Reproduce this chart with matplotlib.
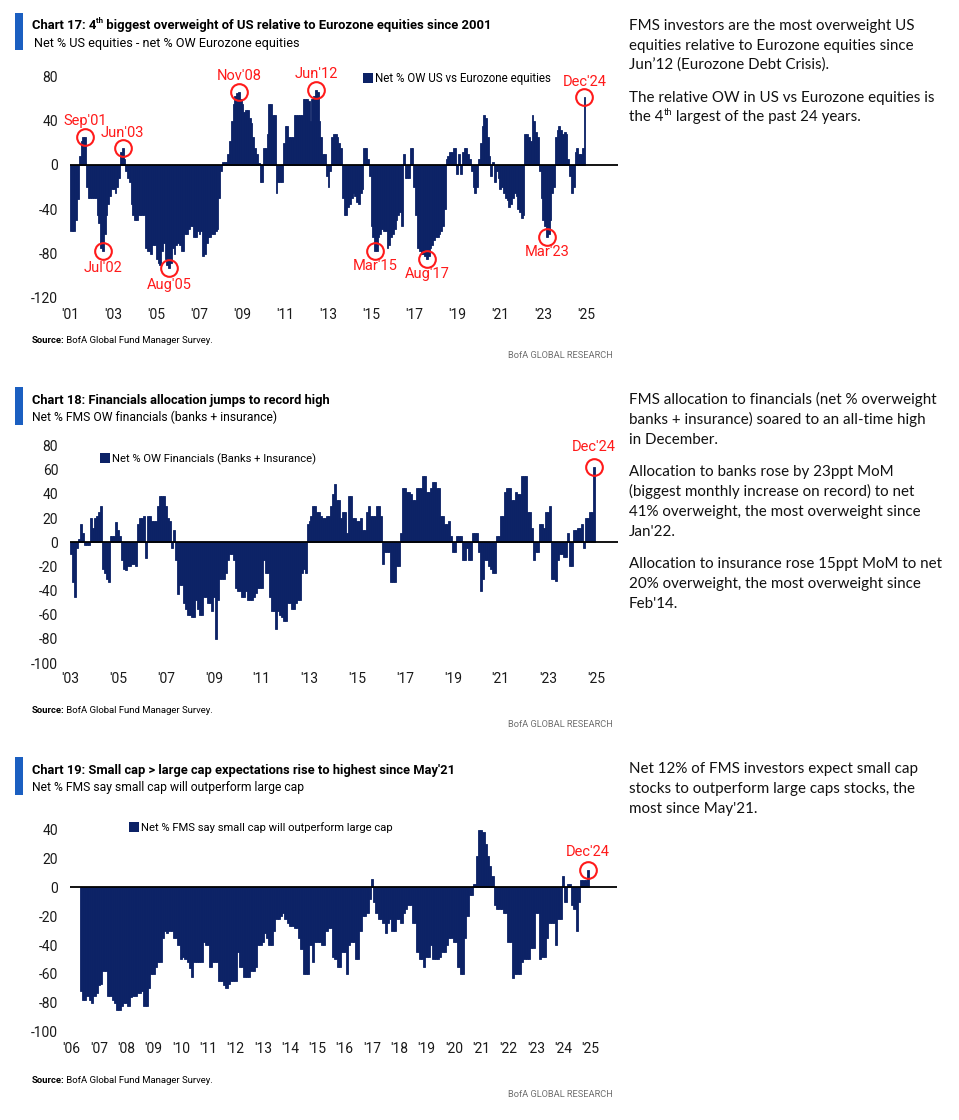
import numpy as np
import matplotlib
matplotlib.use("Agg")
import matplotlib.pyplot as plt
from matplotlib.patches import Rectangle

W, H = 959, 1120
NARROW = ['Liberation Sans Narrow', 'Roboto', 'DejaVu Sans']
BODY = ['Lato', 'DejaVu Sans']
plt.rcParams['font.family'] = NARROW

NAVY = '#0c2266'
RED = '#ff1a1a'
BLUE = '#1b5fc1'
GREY = '#6f6f6f'

# ---------------- data ----------------
# Chart 17: net % OW US vs Eurozone equities, monthly Jan-2001 .. Dec-2024
us_vs_ez_start = (2001, 1)
us_vs_ez = [
    -60, -60, -60, -50, -31, 8, 22, 25, 25, -20, -30, -30,      # 2001
    -30, -30, -30, -45, -52, -75, -78, -62, -45, -35, -28, -22,  # 2002
    -22, -25, -20, -12, 12, 15, 5, -5, -12, -15, -35, -45,       # 2003
    -50, -50, -45, -45, -45, -45, -75, -78, -78, -80, -72, -72,  # 2004
    -85, -88, -90, -78, -70, -85, -90, -93, -88, -75, -80, -72,  # 2005
    -70, -72, -78, -78, -62, -62, -58, -55, -55, -65, -65, -60,  # 2006
    -62, -60, -82, -80, -70, -65, -65, -62, -62, -60, -58, -30,  # 2007
    -5, 3, 3, 3, 10, 22, 40, 55, 62, 65, 66, 60,                 # 2008
    55, 48, 50, 50, 42, 38, 25, 15, 10, 2, -15, -15,             # 2009
    15, 15, 28, 55, 55, 45, 45, -25, -15, -15, -15, 20,          # 2010
    35, 35, 25, 25, 25, 45, 45, 45, 45, 45, 60, 60,              # 2011
    60, 58, 40, 60, 62, 68, 66, 40, 25, 10, 10, -10,             # 2012
    -20, -5, 25, 28, 28, 25, 20, 15, -30, -45, -45, -38,         # 2013
    -35, -30, -25, -28, -33, -35, -25, -22, 15, 15, 5, -10,      # 2014
    -55, -65, -78, -78, -65, -62, -58, -60, -60, -75, -72, -65,  # 2015
    -62, -58, -50, -45, -42, -55, 10, -12, -12, -12, 15, 15,     # 2016
    -20, -45, -75, -78, -80, -80, -82, -85, -82, -75, -72, -68,  # 2017
    -65, -65, -62, -60, -55, -40, 5, 8, 12, 12, 15, 15,          # 2018
    -8, 10, -8, 12, 15, 15, 10, 5, -5, -20, -25, -20,            # 2019
    5, 20, 35, 45, 42, 25, 8, -10, 3, -15, -5, -12,              # 2020
    -22, -20, -25, -30, -32, -38, -35, -30, -25, -28, -40, -42,  # 2021
    -48, -45, 28, 28, 25, 22, 45, 40, 30, 25, -5, -30,           # 2022
    -50, -55, -65, -62, -50, -25, -20, 25, 32, 35, 32, 28,       # 2023
    30, 28, 5, -10, -25, -20, 12, 15, 10, 10, 15, 61,            # 2024
]
us_vs_ez_marks = ["Sep'01", "Jul'02", "Jun'03", "Aug'05", "Nov'08", "Jun'12",
                  "Mar'15", "Aug'17", "Mar'23", "Dec'24"]

# Chart 18: net % OW financials (banks + insurance), monthly Jan-2003 .. Dec-2024
fin_start = (2003, 1)
fin = [
    -10, -33, -45, -5, 3, 15, 8, -2, -2, -2, 20, 12,             # 2003
    20, 22, 25, 30, -22, -25, -30, -33, 5, 5, 5, 17,             # 2004
    10, 5, -15, -22, -23, -20, -20, -18, -18, -20, 15, 20,       # 2005
    20, 22, -13, 22, 22, 18, 18, 18, 30, 38, 38, 38,             # 2006
    30, 20, 18, -5, 10, -15, -43, -35, -35, -50, -55, -60,       # 2007
    -60, -62, -62, -48, -55, -60, -60, -45, -45, -50, -50, -57,  # 2008
    -45, -80, -48, -30, -30, -30, -25, -15, -10, -10, -15, -38,  # 2009
    -40, -40, -45, -45, -40, -48, -48, -48, -45, -42, -38, -38,  # 2010
    -38, -15, -25, -25, -45, -57, -57, -72, -57, -60, -62, -65,  # 2011
    -65, -50, -50, -55, -55, -50, -48, -48, -25, -22, -25, 15,   # 2012
    18, 22, 30, 30, 25, 25, 22, 20, 20, 22, 22, 30,              # 2013
    40, 48, 35, 35, 20, 25, 25, 8, 38, 38, 20, 20,               # 2014
    18, 18, 20, 10, 10, 25, 30, 22, 22, 22, 30, 30,              # 2015
    22, -18, -8, -8, -8, -33, -33, -33, -20, -20, 8, 45,         # 2016
    45, 42, 42, 40, 35, 35, 45, 45, 45, 55, 55, 42,              # 2017
    42, 45, 50, 50, 45, 45, 22, 22, 15, 15, 18, 5,               # 2018
    -8, -8, 5, 5, 5, -15, -15, -5, -15, -15, 8, 8,               # 2019
    8, -8, -40, -30, -15, -15, -20, -22, -25, -25, 5, 5,         # 2020
    22, 22, 42, 45, 45, 45, 35, 35, 42, 40, 40, 55,              # 2021
    55, 55, 25, 25, 12, -15, -8, -8, 15, 15, 12, 25,             # 2022
    25, 30, -30, -30, -32, -15, -10, -10, -12, -12, 8, -20,      # 2023
    -20, 10, 10, 12, 12, 15, -5, 20, 20, 25, 25, 62,             # 2024
]
fin_marks = ["Dec'24"]

# Chart 19: net % FMS say small cap will outperform large cap, monthly May-2006 .. Dec-2024
small_start = (2006, 5)
small = [
    -72, -78, -78, -75, -78, -80, -75, -73,                      # 2006 (May-Dec)
    -68, -67, -58, -58, -75, -75, -78, -80, -85, -85, -82, -80,  # 2007
    -80, -82, -76, -75, -75, -73, -73, -72, -82, -82, -70, -60,  # 2008
    -60, -55, -52, -52, -35, -30, -32, -30, -30, -35, -35, -40,  # 2009
    -50, -48, -50, -52, -56, -62, -52, -52, -52, -52, -38, -40,  # 2010
    -40, -55, -52, -52, -52, -65, -65, -68, -70, -67, -65, -65,  # 2011
    -65, -45, -55, -55, -62, -62, -62, -58, -58, -55, -40, -40,  # 2012
    -38, -32, -35, -40, -40, -30, -22, -22, -20, -18, -22, -25,  # 2013
    -27, -27, -28, -28, -35, -43, -60, -60, -60, -40, -52, -38,  # 2014
    -38, -38, -40, -40, -30, -28, -28, -48, -50, -55, -55, -45,  # 2015
    -45, -60, -40, -38, -38, -50, -50, -30, -20, -20, -18, -8,   # 2016
    6, -10, -18, -22, -22, -25, -32, -25, -22, -30, -30, -22,    # 2017
    -22, -25, -18, -15, -12, -12, -25, -25, -45, -50, -50, -55,  # 2018
    -48, -48, -40, -50, -50, -50, -48, -45, -45, -40, -35, -35,  # 2019
    -38, -38, -55, -60, -60, -35, -20, -5, -5, 2, 22, 40,        # 2020
    40, 38, 30, 22, 15, 8, -12, -15, -15, -15, -18, -18,         # 2021
    -38, -38, -63, -60, -60, -60, -52, -50, -50, -50, -42, -42,  # 2022
    -18, -18, -50, -48, -48, -35, -25, -25, -25, -40, -22, -22,  # 2023
    8, -10, 2, 2, -12, -15, -30, -10, 5, 5, 5, 12,               # 2024
]
small_marks = ["Dec'24"]

MONTHS = {'Jan': 1, 'Feb': 2, 'Mar': 3, 'Apr': 4, 'May': 5, 'Jun': 6,
          'Jul': 7, 'Aug': 8, 'Sep': 9, 'Oct': 10, 'Nov': 11, 'Dec': 12}

# ---------------- figure ----------------
fig = plt.figure(figsize=(W / 100, H / 100), dpi=100)
fig.patch.set_facecolor('white')
renderer = fig.canvas.get_renderer()
PT = 100 / 72.0


def text_w(s, fs, family, weight='normal'):
    t = fig.text(0, 0, s, fontsize=fs, family=family, fontweight=weight)
    w = t.get_window_extent(renderer).width
    t.remove()
    return w


def put_rich(x, yc, parts, fs, target_w=None, family=NARROW, color='black', ha='left'):
    def draw(f):
        arts = []
        cx = x
        base = yc + 0.36 * f * PT
        for s, weight, sup in parts:
            ff = f * 0.62 if sup else f
            yy = base - 0.40 * f * PT if sup else base
            t = fig.text(cx / W, 1 - yy / H, s, fontsize=ff, ha='left', va='baseline',
                         family=family, color=color, fontweight=weight)
            cx += t.get_window_extent(renderer).width
            arts.append(t)
        return arts, cx - x
    arts, w = draw(fs)
    if target_w:
        for a in arts:
            a.remove()
        arts, w = draw(fs * target_w / w)
    if ha == 'right':
        for a in arts:
            px_, py_ = a.get_position()
            a.set_position((px_ - w / W, py_))
    return arts


def put(x, yc, s, fs, target_w=None, **kw):
    return put_rich(x, yc, [(s, kw.pop('weight', 'normal'), False)], fs, target_w, **kw)


def paragraph(x, lines, fs, family=BODY):
    for yc, parts in lines:
        put_rich(x, yc, parts, fs, family=family, color='#111111')


def header(y_top, y_bot, title_parts, title_w, title_y, sub, sub_x, sub_w, sub_y):
    fig.add_artist(Rectangle((15 / W, 1 - y_bot / H), 7.5 / W, (y_bot - y_top) / H,
                             transform=fig.transFigure, color=BLUE, lw=0))
    put_rich(31.5, title_y, title_parts, 10, target_w=title_w)
    put(sub_x, sub_y, sub, 10, target_w=sub_w)


def legend(x, yc, s, tw):
    fig.add_artist(Rectangle((x / W, 1 - (yc + 4.8) / H), 9.5 / W, 9.5 / H,
                             transform=fig.transFigure, color=NAVY, lw=0))
    put(x + 12, yc, s, 9.5, target_w=tw)


def footer(y_src, y_bofa):
    put_rich(31.7, y_src, [("Source:", 'bold', False),
                           (" BofA Global Fund Manager Survey.", 'normal', False)],
             7, target_w=181)
    put_rich(613, y_bofa, [("BofA GLOBAL RESEARCH", 'normal', False)], 7,
             target_w=106, color=GREY, ha='right')


def chart(vals, start, first_tick_year, tick_years, yticks,
          x0, ppm, y0, ppu, left, right, top, bottom, marks, dys):
    ax = fig.add_axes([left / W, 1 - bottom / H, (right - left) / W, (bottom - top) / H])
    off = (start[0] - first_tick_year) * 12 + start[1] - 1
    m = np.arange(len(vals)) + off
    v = np.array(vals, dtype=float)
    ax.bar(m, v, width=1.0, color=NAVY, edgecolor=NAVY, linewidth=0.6, zorder=2)
    ax.set_xlim((left - x0) / ppm, (right - x0) / ppm)
    ax.set_ylim(-(bottom - y0) / ppu, (y0 - top) / ppu)
    ax.axhline(0, color='black', lw=1.3, zorder=3)
    for s in ax.spines.values():
        s.set_visible(False)
    ax.set_xticks([(yy - first_tick_year) * 12 for yy in tick_years])
    ax.set_xticklabels(["'%02d" % (yy % 100) for yy in tick_years])
    ax.set_yticks(yticks)
    ax.set_yticklabels([str(t) for t in yticks])
    ax.tick_params(length=0, labelsize=10, colors='#1a1a1a')
    ax.tick_params(axis='y', pad=8.5)
    ax.tick_params(axis='x', pad=6)
    ax.patch.set_alpha(0)
    for lab, dy in zip(marks, dys):
        mon = MONTHS[lab[:3]]
        yr = 2000 + int(lab[-2:])
        idx = (yr - start[0]) * 12 + mon - start[1]
        mm, vv = m[idx], v[idx]
        ax.plot([mm], [vv], 'o', ms=12, mfc='none', mec=RED, mew=1.5, zorder=5, clip_on=False)
        ax.annotate(lab, (mm, vv), xytext=(0, dy / PT), textcoords='offset points',
                    ha='center', va='center', color=RED, fontsize=10.5)
    return ax


# ---------- Chart 17 ----------
header(13, 50, [("Chart 17: 4", 'bold', False), ("th", 'bold', True),
                (" biggest overweight of US relative to Eurozone equities since 2001", 'bold', False)],
       461, 24, "Net % US equities - net % OW Eurozone equities", 34, 266, 42.5)
chart(us_vs_ez, us_vs_ez_start, 2001, list(range(2001, 2026, 2)), list(range(-120, 81, 40)),
      70.7, 1.79, 165, 1.108, 70, 618, 70, 300, us_vs_ez_marks,
      [16, -17, 15, -17, 16, 16, -15, -15, -15, 15])
legend(363, 78, "Net % OW US vs Eurozone equities", 177)
footer(340, 355)

# ---------- Chart 18 ----------
header(387, 425, [("Chart 18: Financials allocation jumps to record high", 'bold', False)],
       300, 399, "Net % FMS OW financials (banks + insurance)", 31.5, 245, 417)
chart(fin, fin_start, 2003, list(range(2003, 2026, 2)), list(range(-100, 81, 20)),
      70.7, 1.99, 542.3, 1.208, 70, 618, 443, 664, fin_marks, [20])
legend(100, 458, "Net % OW Financials (Banks + Insurance)", 206)
footer(710, 724)

# ---------- Chart 19 ----------
header(757, 795, [("Chart 19: Small cap > large cap expectations rise to highest since May'21", 'bold', False)],
       423.5, 769, "Net % FMS say small cap will outperform large cap", 31.5, 272.5, 786.7)
chart(small, small_start, 2006, list(range(2006, 2026)), list(range(-100, 41, 20)),
      71.7, 2.275, 887.3, 1.443, 70, 617, 824, 1034, small_marks, [18])
legend(129, 827, "Net % FMS say small cap will outperform large cap", 255)
footer(1080, 1093.5)

# ---------- commentary ----------
fs_body = 11 * 304 / text_w("The relative OW in US vs Eurozone equities is", 11, BODY)
N = 'normal'
paragraph(629, [
    (25, [("FMS investors are the most overweight US", N, False)]),
    (44.5, [("equities relative to Eurozone equities since", N, False)]),
    (63.5, [("Jun\u201912 (Eurozone Debt Crisis).", N, False)]),
    (96.7, [("The relative OW in US vs Eurozone equities is", N, False)]),
    (116, [("the 4", N, False), ("th", N, True), (" largest of the past 24 years.", N, False)]),
], fs_body)
paragraph(629, [
    (398.3, [("FMS allocation to financials (net % overweight", N, False)]),
    (418.3, [("banks + insurance) soared to an all-time high", N, False)]),
    (438.3, [("in December.", N, False)]),
    (470.7, [("Allocation to banks rose by 23ppt MoM", N, False)]),
    (490.7, [("(biggest monthly increase on record) to net", N, False)]),
    (510.7, [("41% overweight, the most overweight since", N, False)]),
    (530.7, [("Jan'22.", N, False)]),
    (562.7, [("Allocation to insurance rose 15ppt MoM to net", N, False)]),
    (582.7, [("20% overweight, the most overweight since", N, False)]),
    (602.7, [("Feb'14.", N, False)]),
], fs_body)
paragraph(629, [
    (768, [("Net 12% of FMS investors expect small cap", N, False)]),
    (788, [("stocks to outperform large caps stocks, the", N, False)]),
    (808, [("most since May'21.", N, False)]),
], fs_body)

fig.savefig('out.png', dpi=100, facecolor='white')
